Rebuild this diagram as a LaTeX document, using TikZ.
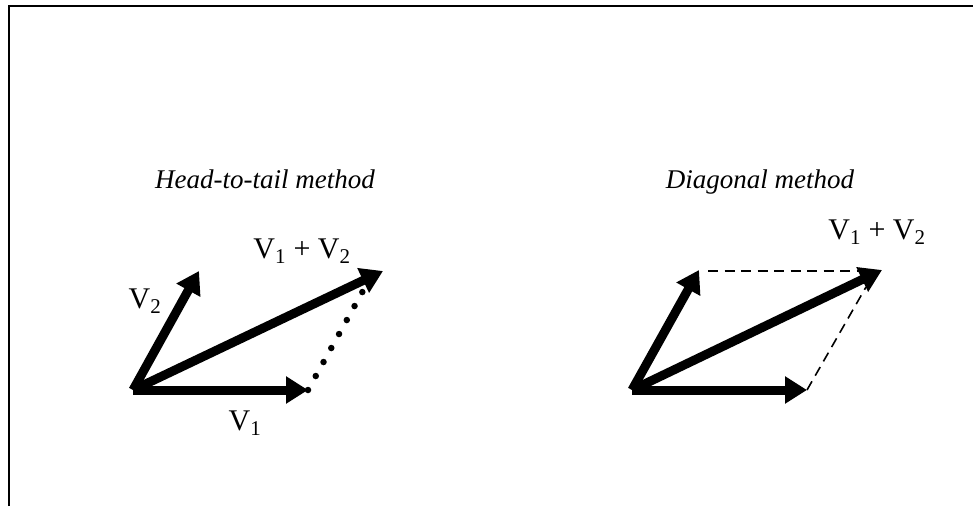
\documentclass[tikz,border=0pt]{standalone}
\usepackage{fontspec}
\setmainfont{Liberation Serif}
\usetikzlibrary{arrows.meta, positioning}

\begin{document}
\begin{tikzpicture}[x=1pt, y=-1pt, font=\fontsize{30}{34}\selectfont,
        vec/.style={-{Triangle[length=22pt, width=26pt]}, line width=9pt, line cap=butt},
        dotline/.style={line width=6.5pt, line cap=round, dash pattern=on 0pt off 16pt},
        dashline/.style={line width=1.6pt, dash pattern=on 10pt off 6.5pt},
        ttl/.style={font=\fontsize{27}{30}\selectfont\itshape, anchor=base},
        lbl/.style={inner sep=0pt, anchor=base}]
        \useasboundingbox (0,0) rectangle (973,506);
        \draw[line width=2pt] (9,506) |- (973,6);
        % head-to-tail
        \node[ttl] (t1) at (265,188) {Head-to-tail method};
        \coordinate (o1) at (133,390);
        \coordinate (a1) at (308,390);
        \coordinate (b1) at (199,271);
        \coordinate (r1) at (383,271);
        \coordinate (d1) at (364,289);
        \draw[dotline] (a1) -- (d1);
        \draw[vec] (o1) -- (a1);
        \draw[vec] (o1) -- (b1);
        \draw[vec] (o1) -- (r1);
        \node[lbl] (l1) at (245,430) {V\textsubscript{1}};
        \node[lbl] (l2) at (145,308) {V\textsubscript{2}};
        \node[lbl] (l3) at (302,258) {V\textsubscript{1} + V\textsubscript{2}};
        % diagonal
        \node[ttl] (t2) at (760,188) {Diagonal method};
        \coordinate (o2) at (632,390);
        \coordinate (a2) at (807,390);
        \coordinate (b2) at (699,270);
        \coordinate (r2) at (882,270);
        \coordinate (c2) at (708,271);
        \coordinate (e2) at (860,271);
        \coordinate (f2) at (866,287);
        \draw[dashline] (c2) -- (e2);
        \draw[dashline] (a2) -- (f2);
        \draw[vec] (o2) -- (a2);
        \draw[vec] (o2) -- (b2);
        \draw[vec] (o2) -- (r2);
        \node[lbl] (l4) at (877,239) {V\textsubscript{1} + V\textsubscript{2}};
      \end{tikzpicture}
\end{document}
